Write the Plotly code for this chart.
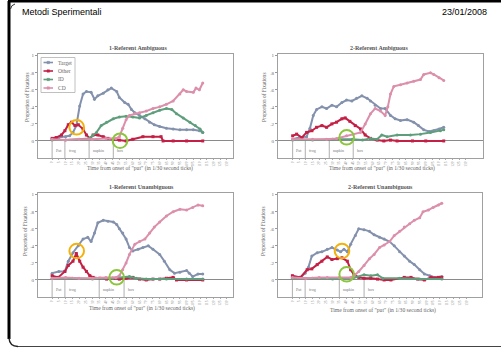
import plotly.graph_objects as go

W, H = 501, 350

# ---------------- data ----------------
tick_labels = [str(v) for v in range(0, 135, 5)]  # 27 rotated tick labels
series_names = ["Target", "Other", "ID", "CD"]
series_colors = ["#8391ad", "#c41f45", "#5f9e7c", "#dc8fab"]

words = ["Put", "frog", "napkin", "box"]
words_amb = [0, 1.9, 5.5, 9.1]
words_unamb = [0, 1.9, 7.0, 10.7]

# 1-Referent Ambiguous
a1_target_x = [0, 1, 2, 2.6, 3.1, 3.6, 4.1, 4.6, 5.1, 5.8, 6.3, 6.8, 7.6, 8.3, 8.8, 9.6, 10.0, 10.8, 11.3, 11.8, 12.3, 13.0, 13.8, 14.5, 15.2, 16.0, 17.0, 18.0, 19.0, 20.0, 21.0, 21.9, 22.4]
a1_target_y = [0.03, 0.04, 0.05, 0.06, 0.10, 0.18, 0.41, 0.55, 0.58, 0.57, 0.49, 0.53, 0.56, 0.60, 0.62, 0.58, 0.51, 0.45, 0.43, 0.37, 0.33, 0.30, 0.26, 0.22, 0.19, 0.17, 0.15, 0.14, 0.13, 0.13, 0.13, 0.12, 0.10]
a1_other_x = [0, 0.6, 1.4, 1.9, 2.4, 2.9, 3.4, 3.9, 4.6, 5.1, 5.6, 6.1, 6.8, 7.6, 8.3, 9.1, 10.0, 11.0, 12.0, 13.5, 15.0, 16.2, 16.5, 18, 20, 22.4]
a1_other_y = [0.03, 0.04, 0.07, 0.12, 0.19, 0.22, 0.18, 0.19, 0.14, 0.07, 0.03, 0.07, 0.07, 0.05, 0.03, 0.02, 0.01, 0.0, 0.02, 0.05, 0.05, 0.05, 0.0, 0.0, 0.0, 0.0]
a1_id_x = [0, 2, 4, 5.5, 6.0, 6.6, 7.3, 8.1, 9.1, 10.0, 11.0, 12.0, 13.0, 14.0, 15.0, 16.0, 17.0, 17.8, 18.5, 19.5, 20.5, 21.3, 22.0, 22.4]
a1_id_y = [0.01, 0.01, 0.02, 0.03, 0.06, 0.10, 0.18, 0.22, 0.26, 0.28, 0.29, 0.28, 0.27, 0.30, 0.33, 0.36, 0.38, 0.37, 0.32, 0.27, 0.22, 0.18, 0.14, 0.10]
a1_cd_x = [0, 2, 4, 6, 8, 9.5, 10.0, 10.5, 11.0, 11.5, 12.3, 13.0, 14.0, 15.0, 16.0, 17.0, 18.0, 19.0, 19.5, 20.0, 21.0, 21.4, 21.9, 22.4]
a1_cd_y = [0.02, 0.01, 0.02, 0.02, 0.03, 0.03, 0.05, 0.15, 0.25, 0.30, 0.32, 0.33, 0.35, 0.38, 0.40, 0.43, 0.47, 0.55, 0.60, 0.58, 0.57, 0.62, 0.60, 0.68]

# 2-Referent Ambiguous
a2_target_x = [0, 1, 2.1, 2.6, 3.1, 3.6, 4.4, 5.1, 5.9, 6.6, 7.4, 8.1, 8.9, 9.6, 10.4, 11.2, 11.7, 12.4, 13.2, 13.9, 14.7, 15.4, 16.2, 17.2, 18.2, 18.9, 19.7, 20.5, 21.2, 22.0, 22.7]
a2_target_y = [0.02, 0.04, 0.05, 0.15, 0.30, 0.37, 0.40, 0.38, 0.42, 0.40, 0.45, 0.48, 0.47, 0.50, 0.53, 0.50, 0.47, 0.42, 0.38, 0.38, 0.30, 0.26, 0.24, 0.25, 0.22, 0.18, 0.13, 0.11, 0.12, 0.14, 0.16]
a2_other_x = [0, 0.6, 1.4, 2.1, 2.9, 3.6, 4.4, 5.1, 5.9, 6.6, 7.4, 7.9, 8.6, 9.4, 10.2, 10.9, 11.7, 12.7, 13.7, 14.7, 15.7, 18, 20, 22.7]
a2_other_y = [0.06, 0.08, 0.04, 0.10, 0.12, 0.16, 0.18, 0.16, 0.20, 0.22, 0.26, 0.27, 0.23, 0.18, 0.14, 0.07, 0.03, 0.01, 0.0, 0.01, 0.0, 0.0, 0.0, 0.0]
a2_id_x = [0, 3, 6, 9, 10.5, 11.7, 12.7, 13.4, 14.2, 15.7, 17.7, 19.2, 20.7, 22.2, 22.7]
a2_id_y = [0.01, 0.01, 0.02, 0.02, 0.01, 0.03, 0.02, 0.07, 0.05, 0.07, 0.07, 0.08, 0.10, 0.12, 0.13]
a2_cd_x = [0, 3, 5.1, 6.6, 8.1, 9.1, 10.2, 10.9, 11.7, 12.4, 13.2, 13.9, 14.3, 14.7, 15.2, 16.2, 17.2, 18.2, 19.2, 19.7, 20.7, 21.2, 22.0, 22.7]
a2_cd_y = [0.02, 0.02, 0.02, 0.03, 0.06, 0.08, 0.10, 0.20, 0.32, 0.38, 0.35, 0.30, 0.40, 0.55, 0.64, 0.66, 0.68, 0.70, 0.72, 0.78, 0.80, 0.78, 0.74, 0.71]

# 1-Referent Unambiguous
u1_target_x = [0, 1, 1.9, 2.4, 3.1, 3.9, 4.6, 5.3, 5.8, 6.3, 6.8, 7.6, 8.3, 9.1, 9.6, 10.0, 10.5, 11.0, 11.5, 12.0, 12.8, 13.5, 14.3, 15.0, 16.0, 16.7, 17.5, 18.2, 19.0, 20.0, 20.4, 20.9, 21.7, 22.4]
u1_target_y = [0.08, 0.10, 0.10, 0.22, 0.32, 0.40, 0.48, 0.50, 0.45, 0.55, 0.67, 0.70, 0.69, 0.68, 0.65, 0.60, 0.55, 0.48, 0.38, 0.34, 0.36, 0.38, 0.40, 0.36, 0.30, 0.22, 0.12, 0.08, 0.09, 0.11, 0.08, 0.04, 0.07, 0.07]
u1_other_x = [0, 0.9, 1.9, 2.4, 3.1, 3.6, 4.1, 4.6, 5.1, 5.6, 6.1, 7.1, 8.1, 9.1, 10, 11, 12, 13, 14, 15, 16, 17, 18, 18.5, 20, 22.4]
u1_other_y = [0.05, 0.03, 0.10, 0.17, 0.22, 0.31, 0.22, 0.15, 0.10, 0.05, 0.03, 0.02, 0.01, 0.02, 0.01, 0.02, 0.03, 0.01, 0.0, 0.01, 0.01, 0.02, 0.03, 0.0, 0.0, 0.0]
u1_id_x = [0, 3, 6, 9, 11.5, 12.5, 14, 17, 20, 22.4]
u1_id_y = [0.02, 0.02, 0.01, 0.02, 0.04, 0.02, 0.01, 0.01, 0.01, 0.01]
u1_cd_x = [0, 2, 4, 6, 8, 9.5, 10.0, 10.5, 11.0, 11.5, 12.3, 13.0, 13.8, 14.5, 15.2, 16.0, 17.0, 18.0, 19.0, 20.0, 20.9, 21.7, 22.4]
u1_cd_y = [0.02, 0.03, 0.02, 0.02, 0.03, 0.03, 0.05, 0.12, 0.20, 0.30, 0.42, 0.45, 0.48, 0.55, 0.62, 0.68, 0.75, 0.80, 0.83, 0.82, 0.85, 0.88, 0.87]

# 2-Referent Unambiguous
u2_target_x = [0, 1.2, 1.9, 2.4, 2.9, 3.7, 4.4, 5.2, 5.9, 6.7, 7.2, 7.7, 8.2, 8.7, 9.4, 9.9, 10.7, 11.5, 12.2, 13.0, 13.7, 14.5, 15.2, 16.0, 16.7, 17.5, 18.2, 19.0, 19.7, 20.5, 21.3, 22.3]
u2_target_y = [0.03, 0.03, 0.08, 0.15, 0.28, 0.32, 0.33, 0.36, 0.38, 0.35, 0.33, 0.36, 0.33, 0.42, 0.52, 0.60, 0.59, 0.57, 0.53, 0.50, 0.48, 0.45, 0.40, 0.33, 0.28, 0.22, 0.18, 0.12, 0.07, 0.05, 0.03, 0.04]
u2_other_x = [0, 1.2, 2.2, 2.9, 3.7, 4.4, 5.2, 5.9, 6.7, 7.4, 8.2, 8.7, 9.2, 9.9, 10.7, 11.7, 12.7, 13.7, 14.7, 16.7, 17.7, 18.7, 19.7, 20.7, 21.8, 22.3]
u2_other_y = [0.05, 0.03, 0.12, 0.13, 0.18, 0.22, 0.27, 0.24, 0.25, 0.26, 0.22, 0.12, 0.06, 0.03, 0.02, 0.02, 0.01, 0.0, 0.0, 0.03, 0.03, 0.01, 0.0, 0.03, 0.03, 0.03]
u2_id_x = [0, 3, 6, 9, 10.7, 11.7, 12.7, 13.5, 16, 19, 22.3]
u2_id_y = [0.02, 0.02, 0.01, 0.02, 0.06, 0.05, 0.06, 0.02, 0.02, 0.01, 0.01]
u2_cd_x = [0, 2, 4, 5.2, 7, 8.7, 9.2, 9.9, 10.7, 11.5, 12.2, 13.0, 13.7, 14.5, 15.2, 16.0, 16.7, 17.5, 18.2, 19.0, 19.5, 20.3, 21.0, 21.8, 22.3]
u2_cd_y = [0.03, 0.02, 0.03, 0.03, 0.03, 0.03, 0.05, 0.10, 0.17, 0.25, 0.30, 0.38, 0.41, 0.45, 0.52, 0.57, 0.62, 0.66, 0.70, 0.73, 0.80, 0.82, 0.85, 0.88, 0.90]

panel_titles = ["1-Referent Ambiguous", "2-Referent Ambiguous",
                "1-Referent Unambiguous", "2-Referent Unambiguous"]
x_title = 'Time from onset of "put" (in 1/30 second ticks)'
y_title = "Proportion of Fixations"
y_tick_vals = [0, 0.2, 0.4, 0.6, 0.8, 1]
y_tick_text = ["0", ".2", ".4", ".6", ".8", "1"]

# ---------------- layout helpers ----------------
def px(x):
    return x / W

def py(y):
    return 1 - y / H

SERIF = "Liberation Serif, DejaVu Serif, serif"
SANS = "Liberation Sans, Arial, sans-serif"

panels = [
    dict(data=[(a1_target_x, a1_target_y), (a1_other_x, a1_other_y), (a1_id_x, a1_id_y), (a1_cd_x, a1_cd_y)],
         box=(38, 54, 233, 158), xr=[-2.1, 26.9], words=words_amb,
         title_xy=(138, 48), xt_xy=(140, 168), yt_xy=(27, 98)),
    dict(data=[(a2_target_x, a2_target_y), (a2_other_x, a2_other_y), (a2_id_x, a2_id_y), (a2_cd_x, a2_cd_y)],
         box=(278, 54, 483, 158), xr=[-2.2, 28.6], words=words_amb,
         title_xy=(379, 48), xt_xy=(382, 168), yt_xy=(264, 98)),
    dict(data=[(u1_target_x, u1_target_y), (u1_other_x, u1_other_y), (u1_id_x, u1_id_y), (u1_cd_x, u1_cd_y)],
         box=(38, 193, 233, 297), xr=[-2.1, 26.9], words=words_unamb,
         title_xy=(141, 187), xt_xy=(142, 308), yt_xy=(25, 232)),
    dict(data=[(u2_target_x, u2_target_y), (u2_other_x, u2_other_y), (u2_id_x, u2_id_y), (u2_cd_x, u2_cd_y)],
         box=(278, 193, 482, 297), xr=[-2.15, 28.3], words=words_unamb,
         title_xy=(380, 187), xt_xy=(383, 310), yt_xy=(263, 232)),
]

fig = go.Figure()
shapes = []
annotations = []
layout_axes = {}

for i, p in enumerate(panels):
    n = "" if i == 0 else str(i + 1)
    xa, ya = "x" + n, "y" + n
    x0, y0, x1, y1 = p["box"]
    layout_axes["xaxis" + n] = dict(
        domain=[px(x0), px(x1)], anchor=ya, range=p["xr"],
        tickmode="array", tickvals=list(range(len(tick_labels))), ticktext=tick_labels,
        tickangle=-90, tickfont=dict(size=3.5, family=SERIF, color="#888"),
        ticks="outside", ticklen=1, tickcolor="#aaa",
        showgrid=False, zeroline=False, showline=True, mirror=True,
        linecolor="#a0a0a0", linewidth=1, fixedrange=True)
    layout_axes["yaxis" + n] = dict(
        domain=[py(y1), py(y0)], anchor=xa, range=[-0.2, 1.02],
        tickmode="array", tickvals=y_tick_vals, ticktext=y_tick_text,
        tickfont=dict(size=5, family=SERIF, color="#666"),
        ticks="outside", ticklen=2, tickcolor="#999",
        showgrid=False, zeroline=True, zerolinecolor="#8a8a8a", zerolinewidth=1,
        showline=True, mirror=True, linecolor="#a0a0a0", linewidth=1, fixedrange=True)
    for (sx, sy), name, col in zip(p["data"], series_names, series_colors):
        fig.add_trace(go.Scatter(
            x=sx, y=sy, xaxis=xa, yaxis=ya, name=name, showlegend=False,
            mode="lines+markers",
            line=dict(color=col, width=2),
            marker=dict(color=col, size=3, symbol="square" if name == "Other" else "circle"),
        ))
    # word-onset markers
    for wx, wt in zip(p["words"], words):
        shapes.append(dict(type="line", xref=xa, yref=ya, x0=wx, x1=wx, y0=0, y1=-0.2,
                           line=dict(color="#999", width=0.8)))
        annotations.append(dict(xref=xa, yref=ya, x=wx + 0.25, y=-0.11, text=wt,
                                showarrow=False, xanchor="left", yanchor="middle",
                                font=dict(size=4, family=SERIF, color="#777")))
    tx, ty = p["title_xy"]
    annotations.append(dict(xref="paper", yref="paper", x=px(tx), y=py(ty), text="<b>" + panel_titles[i] + "</b>",
                            showarrow=False, xanchor="center", yanchor="middle",
                            font=dict(size=6, family=SERIF, color="#555")))
    tx, ty = p["xt_xy"]
    annotations.append(dict(xref="paper", yref="paper", x=px(tx), y=py(ty), text=x_title,
                            showarrow=False, xanchor="center", yanchor="middle",
                            font=dict(size=5.6, family=SERIF, color="#666")))
    tx, ty = p["yt_xy"]
    annotations.append(dict(xref="paper", yref="paper", x=px(tx), y=py(ty), text=y_title,
                            showarrow=False, xanchor="center", yanchor="middle", textangle=-90,
                            font=dict(size=5.3, family=SERIF, color="#666")))

# legend (top-left panel), drawn manually
leg_rows = [62.5, 71, 79.5, 88]
shapes.append(dict(type="rect", xref="paper", yref="paper", x0=px(41), x1=px(75), y0=py(92.5), y1=py(57.5),
                   line=dict(color="#b0b0b0", width=0.8), fillcolor="rgba(255,255,255,0)"))
for ry, name, col in zip(leg_rows, series_names, series_colors):
    shapes.append(dict(type="line", xref="paper", yref="paper", x0=px(43.5), x1=px(53), y0=py(ry), y1=py(ry),
                       line=dict(color=col, width=1.6)))
    shapes.append(dict(type="rect", xref="paper", yref="paper", x0=px(47), x1=px(49.5), y0=py(ry + 1.2), y1=py(ry - 1.2),
                       line=dict(color=col, width=0.5), fillcolor=col))
    annotations.append(dict(xref="paper", yref="paper", x=px(56), y=py(ry), text=name, showarrow=False,
                            xanchor="left", yanchor="middle", font=dict(size=5.5, family=SERIF, color="#666")))

# highlight circles
orange, green = "#f4b10b", "#8cc63e"
circles = [(76.7, 127.3, orange), (120, 140.7, green), (346.7, 137.3, green),
           (76.7, 251, orange), (116.7, 277.3, green), (342, 251, orange), (346.7, 274.3, green)]
for cx, cy, col in circles:
    r = 7.3
    shapes.append(dict(type="circle", xref="paper", yref="paper", x0=px(cx - r), x1=px(cx + r),
                       y0=py(cy + r), y1=py(cy - r), line=dict(color=col, width=2)))

# slide frame
shapes.append(dict(type="line", xref="paper", yref="paper", x0=px(8), x1=1, y0=py(1.3), y1=py(1.3),
                   line=dict(color="black", width=2.6)))
shapes.append(dict(type="line", xref="paper", yref="paper", x0=px(9), x1=px(9), y0=py(1), y1=py(339),
                   line=dict(color="black", width=3)))
shapes.append(dict(type="path", xref="paper", yref="paper",
                   path=f"M {px(9)},{py(338)} Q {px(9.5)},{py(346.5)} {px(18)},{py(346.5)}",
                   line=dict(color="#222", width=1.4)))
shapes.append(dict(type="line", xref="paper", yref="paper", x0=px(18), x1=1, y0=py(346.5), y1=py(346.5),
                   line=dict(color="#444", width=1.2)))
shapes.append(dict(type="path", xref="paper", yref="paper",
                   path=f"M {px(10.5)},{py(9)} Q {px(11)},{py(5)} {px(15)},{py(4)}",
                   line=dict(color="#333", width=1)))

annotations.append(dict(xref="paper", yref="paper", x=px(20), y=py(12), text="Metodi Sperimentali",
                        showarrow=False, xanchor="left", yanchor="middle",
                        font=dict(size=9, family=SANS, color="black")))
annotations.append(dict(xref="paper", yref="paper", x=px(489), y=py(12), text="23/01/2008",
                        showarrow=False, xanchor="right", yanchor="middle",
                        font=dict(size=9, family=SANS, color="black")))

fig.update_layout(
    width=W, height=H, margin=dict(l=0, r=0, t=0, b=0),
    paper_bgcolor="white", plot_bgcolor="white",
    showlegend=False, shapes=shapes, annotations=annotations, **layout_axes)

fig.write_html("out.html", config={"displayModeBar": False},
               post_script="document.body.style.margin='0px';document.body.style.overflow='hidden';")
